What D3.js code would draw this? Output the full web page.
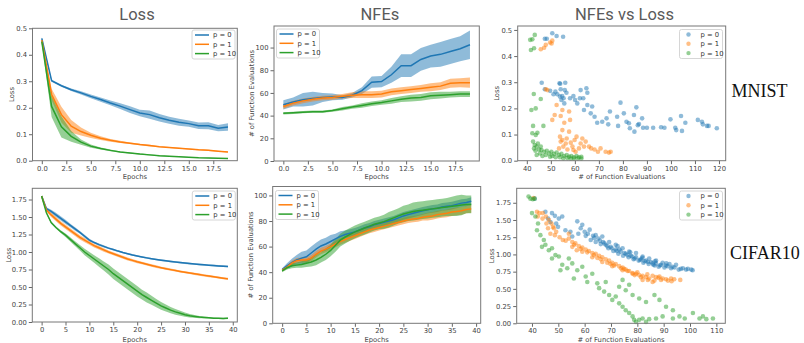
<!DOCTYPE html>
<html>
<head>
<meta charset="utf-8">
<script src="https://cdn.jsdelivr.net/npm/d3@7"></script>
<style>
  body { margin: 0; background: #fff; }
  svg { display: block; }
  .tick text { font-family: "DejaVu Sans", sans-serif; font-size: 6.8px; fill: #444; }
  .tick line { stroke: #666; }
</style>
</head>
<body>
<svg id="chart"></svg>
<script>
// ---- data ----
var seriesNames = ["p = 0", "p = 1", "p = 10"];
var colors = ["#1f77b4", "#ff7f0e", "#2ca02c"];

// MNIST loss per epoch (mean, spread)
var mnistLossP0 = [0.462,0.302,0.283,0.268,0.256,0.243,0.231,0.218,0.206,0.193,0.180,0.174,0.162,0.153,0.145,0.140,0.132,0.132,0.123,0.127];
var mnistLossP0Sd = [0.004,0.004,0.004,0.005,0.006,0.007,0.008,0.009,0.011,0.013,0.012,0.016,0.014,0.013,0.013,0.012,0.012,0.013,0.012,0.014];
var mnistLossP1 = [0.455,0.250,0.174,0.130,0.110,0.096,0.085,0.077,0.071,0.066,0.061,0.057,0.053,0.050,0.047,0.044,0.041,0.039,0.036,0.033];
var mnistLossP1Sd = [0.004,0.022,0.030,0.024,0.015,0.010,0.007,0.005,0.004,0.003,0.003,0.003,0.002,0.002,0.002,0.002,0.002,0.002,0.002,0.002];
var mnistLossP10 = [0.450,0.205,0.128,0.092,0.070,0.055,0.046,0.039,0.033,0.029,0.025,0.022,0.019,0.017,0.015,0.013,0.011,0.010,0.009,0.008];
var mnistLossP10Sd = [0.005,0.040,0.040,0.020,0.010,0.006,0.004,0.003,0.002,0.002,0.002,0.002,0.002,0.001,0.001,0.001,0.001,0.001,0.001,0.001];

// MNIST NFEs per epoch
var mnistNfeP0 = [49.5,52,54,55,56,56.5,56,58,62,69.5,70,76,84,84,89.5,92.5,94,96.5,99,102.5];
var mnistNfeP0Sd = [4,4,6,6,4,3,2,2,3,5,5,7,10,10,10,10,11,11,11,12.5];
var mnistNfeP1 = [48,51,53,54.5,55.5,56,57,58,58.5,58.5,59,61,62,63,64,65,66,68.5,69,69];
var mnistNfeP1Sd = [2,2,2,2,2,2,2,2.5,3,3,3,3,3,3,3,3.5,3.5,4,4,4.5];
var mnistNfeP10 = [42,42.5,43,43.5,43.5,44.5,46,47.5,49,50.5,51.5,53,54.5,55.5,56,57.5,58,58.5,59,59];
var mnistNfeP10Sd = [1,1,1,1,1,1,1.5,1.5,2,2,2,2.5,2.5,3,3,3,3,2.5,2.5,2.5];

// CIFAR10 loss per epoch
var cifarLossP0 = [1.80,1.62,1.58,1.53,1.48,1.43,1.38,1.33,1.28,1.225,1.17,1.135,1.105,1.08,1.055,1.035,1.013,0.993,0.975,0.958,0.943,0.929,0.916,0.904,0.893,0.883,0.874,0.865,0.857,0.849,0.842,0.835,0.829,0.823,0.817,0.811,0.806,0.801,0.797,0.793];
var cifarLossP0Sd = [0.005,0.02,0.025,0.03,0.03,0.03,0.025,0.025,0.02,0.02,0.02,0.015,0.015,0.015,0.013,0.013,0.012,0.012,0.012,0.012,0.012,0.012,0.012,0.012,0.012,0.012,0.012,0.012,0.012,0.012,0.012,0.012,0.012,0.012,0.012,0.012,0.012,0.012,0.012,0.012];
var cifarLossP1 = [1.80,1.60,1.53,1.47,1.41,1.36,1.31,1.26,1.21,1.17,1.13,1.09,1.06,1.03,1.00,0.975,0.95,0.925,0.90,0.88,0.86,0.842,0.824,0.807,0.791,0.776,0.762,0.748,0.735,0.722,0.71,0.699,0.688,0.677,0.666,0.656,0.646,0.636,0.626,0.616];
var cifarLossP1Sd = [0.005,0.02,0.03,0.03,0.03,0.03,0.03,0.03,0.03,0.03,0.025,0.025,0.025,0.025,0.02,0.02,0.02,0.02,0.02,0.02,0.02,0.018,0.018,0.018,0.018,0.015,0.015,0.015,0.015,0.015,0.015,0.015,0.015,0.015,0.015,0.015,0.015,0.015,0.015,0.015];
var cifarLossP10 = [1.80,1.56,1.42,1.35,1.29,1.24,1.18,1.12,1.06,1.00,0.95,0.90,0.85,0.80,0.75,0.69,0.64,0.59,0.54,0.49,0.44,0.39,0.35,0.31,0.27,0.23,0.20,0.17,0.145,0.125,0.105,0.09,0.08,0.07,0.065,0.06,0.055,0.052,0.05,0.055];
var cifarLossP10Sd = [0.005,0.01,0.015,0.015,0.02,0.025,0.03,0.035,0.04,0.045,0.05,0.055,0.06,0.065,0.07,0.075,0.075,0.075,0.075,0.075,0.075,0.07,0.07,0.065,0.06,0.055,0.05,0.045,0.04,0.035,0.03,0.025,0.02,0.015,0.012,0.01,0.01,0.01,0.01,0.01];

// CIFAR10 NFEs per epoch
var cifarNfeP0 = [42,45,47.5,49.5,51,52,55,58,60.5,62,64,66,68,69.5,70.5,71.5,73,74.5,75.5,77,78,79,80,81,82.5,84,85,86,87,88,88.8,89.5,90,91,91.5,92,93,94,94.5,95.5];
var cifarNfeP0Sd = [1,2,3,4,5,5,5,5,5,5,5,4,4,3,3,3,3,3,3,3,3,3,3,3,3,3,3,3,3,3,3,3,3,3,3,3,3,3,3,3];
var cifarNfeP1 = [41.5,44,47,49,49.5,49.5,51,54,56.5,58,60,62,64,65.5,67,68.5,70,71.5,73,74,75,76,77,78,79,80,81,81.5,82,83,83.5,84,85,85.5,86,87,87.5,88,89,89.5];
var cifarNfeP1Sd = [1,1.5,2,2,2,2,2.5,2.5,2.5,2.5,2.5,2.5,2.5,2.5,2.5,2.5,2.5,2.5,2.5,2.5,2.5,2.5,2.5,2.5,2.5,2.5,2.5,2.5,2.5,2.5,3,3,3,3,3,3,3,3,3,3];
var cifarNfeP10 = [41,43.5,45,45.5,46,47,48,49.5,51.5,54,57,61,65,67.5,69.5,71.5,73,74.5,76,77.5,78.5,79.5,81,82.5,84,85.5,86.5,87.5,88,88.5,89,89.5,90,90.5,91,91.5,92,92.5,93,93];
var cifarNfeP10Sd = [1,1.5,2,2,2.5,3,3.5,4,4,4.5,4.5,5,5,5,5,5,5,5,5,5,5,5.5,6,6,6,6.5,6.5,7,7,7,7,7,7,7,7,7.5,8,8,7,7];

// scatter: [NFEs, loss]
var mnistScatterP0 = [[50.6,0.487],[52.4,0.477],[47.5,0.466],[48.3,0.466],[55.1,0.474],[46.2,0.298],[47.5,0.273],[49.7,0.267],[51.1,0.254],[51.9,0.264],[53.6,0.296],[53.9,0.294],[56,0.298],[55.8,0.27],[56.5,0.26],[53.8,0.245],[54.7,0.247],[55.3,0.239],[55.6,0.219],[54.4,0.232],[58,0.239],[59.4,0.247],[60.1,0.232],[61,0.219],[62.4,0.27],[62.1,0.239],[63.5,0.239],[64.8,0.277],[65.2,0.26],[63.8,0.194],[65.2,0.213],[66.6,0.181],[67.2,0.207],[68.2,0.168],[69.3,0.145],[71.4,0.149],[73.2,0.162],[73.9,0.139],[74.6,0.188],[77.6,0.168],[78,0.133],[79,0.222],[80.4,0.181],[81.5,0.149],[82.5,0.143],[82.9,0.124],[84.6,0.175],[84.8,0.111],[85.6,0.204],[86.2,0.136],[86.7,0.14],[88,0.162],[88.4,0.126],[90,0.126],[92.6,0.126],[95.9,0.128],[97.3,0.126],[99.8,0.158],[101.8,0.126],[102.2,0.117],[104.2,0.171],[104.6,0.114],[106,0.145],[111.2,0.156],[112.9,0.149],[113.3,0.139],[115,0.133],[115.7,0.133],[119.1,0.124],[52.7,0.254],[54.1,0.273]];
var mnistScatterP1 = [[45.8,0.426],[47.2,0.432],[47.9,0.443],[49.7,0.452],[50.6,0.459],[50.3,0.448],[47.9,0.273],[48.6,0.27],[51.6,0.175],[52.4,0.213],[50.6,0.156],[54.1,0.171],[54.8,0.194],[57.6,0.188],[58,0.156],[55.6,0.145],[54.8,0.117],[53.8,0.092],[54.1,0.073],[55.2,0.054],[56.2,0.066],[56.6,0.085],[57.6,0.111],[58.3,0.069],[59,0.054],[59.9,0.079],[60.7,0.092],[61.7,0.047],[62.4,0.066],[63.1,0.085],[63.8,0.054],[64.5,0.073],[65.9,0.054],[66.8,0.047],[68.2,0.043],[69.6,0.034],[70.7,0.047],[72.8,0.034],[74.2,0.031],[74.9,0.034],[53.4,0.047],[54.8,0.079],[56.9,0.043],[59.4,0.041],[60.3,0.034]];
var mnistScatterP10 = [[43.3,0.481],[41.4,0.462],[42.3,0.464],[41.7,0.423],[43,0.43],[42.9,0.255],[45.8,0.236],[43.7,0.2],[41.9,0.194],[42.6,0.133],[46.9,0.133],[42.3,0.105],[43.7,0.098],[44.4,0.107],[42.6,0.073],[43.3,0.06],[43,0.047],[44.1,0.054],[45.1,0.043],[46.1,0.041],[47.2,0.034],[48.3,0.038],[49.3,0.028],[50.2,0.034],[51.3,0.026],[52.4,0.031],[53.4,0.022],[54.4,0.026],[55.5,0.018],[56.6,0.022],[57.6,0.015],[58.5,0.018],[59.6,0.013],[60.7,0.018],[61.7,0.013],[62.7,0.015],[44.1,0.022],[45.5,0.028],[46.5,0.018],[47.9,0.022],[49.7,0.015],[50.6,0.018],[52,0.013],[53.8,0.013],[55.2,0.009],[56.9,0.01],[58.3,0.008],[59.6,0.008],[61.2,0.009],[62.7,0.008],[44.6,0.066],[45.8,0.054],[43.6,0.038]];

var cifarScatterP0 = [[41,1.81],[45.1,1.62],[47.6,1.6],[46.1,1.52],[47,1.47],[49.2,1.45],[49.9,1.4],[51.5,1.55],[50.2,1.52],[54.6,1.33],[57.2,1.48],[57.6,1.3],[59.1,1.43],[60.4,1.27],[61.9,1.36],[62.3,1.21],[63.2,1.27],[64.2,1.18],[65.2,1.23],[66.1,1.15],[67,1.18],[68,1.14],[69,1.09],[69.9,1.11],[70.9,1.05],[71.8,1.07],[72.8,1.01],[73.7,1.04],[74.6,0.98],[75.6,1.01],[76.7,0.96],[77.5,0.98],[78.6,0.93],[79.5,0.96],[80.5,0.91],[81.4,0.93],[82.3,0.88],[83.3,0.91],[84.3,0.86],[85.2,0.89],[86.1,0.85],[87.1,0.87],[88.1,0.82],[89,0.85],[90.3,0.81],[91.5,0.83],[92.8,0.8],[94.1,0.81],[95.7,0.78],[97.3,0.8],[98.5,0.78],[100.5,0.78],[64.2,1.28],[66.7,1.26],[69.3,1.18],[71.8,1.14],[74.4,1.09],[76.9,1.04],[79.5,1.02],[82,0.97],[84.5,0.94],[87.1,0.91],[89.6,0.88],[92.2,0.86],[94.7,0.85],[55.3,1.26],[52.7,1.35],[48.7,1.56],
  [58.5,1.38],[60,1.33],[61.2,1.3],[63.6,1.24],[65.8,1.2],[67.5,1.16],[68.6,1.12],[70.3,1.09],[72.2,1.05],[73.2,1.07],[75.1,1.02],[76.2,0.99],[78,0.97],[79,0.94],[81,0.92],[82.8,0.9],[84,0.89],[85.8,0.87],[86.6,0.84],[88.6,0.84],[90.8,0.84],[93.3,0.82],[96.5,0.79],[99.2,0.79],[101,0.77],[72.5,1.12],[77.3,1.03],[81.9,0.95],[86.7,0.9],[91,0.87]];
var cifarScatterP1 = [[40.6,1.82],[41.9,1.62],[42.8,1.6],[44.1,1.6],[45.3,1.55],[46.4,1.5],[47.4,1.45],[48.3,1.38],[49.2,1.33],[46.1,1.38],[47,1.3],[48.7,1.28],[51.7,1.21],[54,1.23],[55.3,1.18],[56.5,1.16],[57.8,1.12],[59.1,1.1],[60.4,1.07],[61.6,1.05],[62.9,1.02],[64.2,1.01],[65.5,0.98],[66.7,0.96],[68,0.93],[69.3,0.91],[70.5,0.88],[71.8,0.86],[73.1,0.83],[74.4,0.81],[75.6,0.78],[76.9,0.76],[78.2,0.73],[79.5,0.72],[80.7,0.7],[82,0.69],[83.3,0.67],[84.5,0.65],[85.8,0.69],[87.1,0.67],[88.4,0.68],[89.6,0.65],[90.9,0.64],[92.8,0.65],[96.3,0.63],[55.3,1.11],[59.1,1.04],[62.9,0.96],[66.7,0.89],[70.5,0.83],[74.4,0.77],[78.2,0.72],[82,0.63],[85.8,0.6],[54,1.3],
  [50.5,1.25],[52.8,1.2],[56,1.14],[58.5,1.08],[61,1.03],[63.5,0.99],[66.1,0.93],[68.6,0.88],[71.2,0.84],[73.8,0.8],[76.3,0.76],[79,0.7],[81.4,0.67],[84,0.63],[86.5,0.62],[89,0.63],[91.6,0.62],[94,0.64],[57,1.06],[64.8,0.95],[69.8,0.86],[75,0.79],[80,0.74],[83.8,0.71],[88,0.66],[93,0.61],[45.5,1.45],[48,1.4],[44,1.52],[42.2,1.55]];
var cifarScatterP10 = [[38.7,1.84],[39.4,1.81],[40.3,1.8],[41,1.81],[40,1.6],[41.3,1.55],[42.3,1.45],[41.9,1.35],[43.2,1.28],[44.5,1.21],[45.1,1.14],[43.8,1.11],[46.4,1.06],[47.6,1.09],[48.9,0.99],[50.2,0.97],[47.6,0.94],[51.5,0.85],[53.4,0.8],[50.8,0.77],[55.3,0.87],[57.2,0.77],[55.9,0.65],[60.4,0.68],[61,0.6],[64.8,0.58],[65.5,0.51],[67.4,0.46],[69.3,0.41],[70.5,0.34],[71.8,0.39],[73.1,0.29],[74.4,0.24],[75.6,0.19],[76.9,0.15],[78.2,0.1],[78.8,0.05],[79.5,0.02],[80.7,0.05],[82,0.07],[83.3,0.02],[84.5,0.06],[73.1,0.53],[75.6,0.48],[78.2,0.41],[80.7,0.36],[83.3,0.31],[86.5,0.41],[88.4,0.34],[90.9,0.24],[93.5,0.19],[96,0.1],[98,0.07],[101.1,0.15],[103.6,0.07],[104.9,0.1],[106.2,0.06],[108.7,0.07],[87.1,0.07],[89.6,0.1],[93.5,0.07],[74.4,0.63],[76.9,0.56],[68,0.6],[62.9,0.72],[59.1,0.82],[54,0.94]];

// tick values
var epochTicksMnist = [0, 2.5, 5, 7.5, 10, 12.5, 15, 17.5];
var epochTicksCifar = [0, 5, 10, 15, 20, 25, 30, 35, 40];
var lossTicksMnist = [0, 0.1, 0.2, 0.3, 0.4, 0.5];
var lossTicksCifar = [0, 0.25, 0.5, 0.75, 1.0, 1.25, 1.5, 1.75];
var nfeTicks = [0, 20, 40, 60, 80, 100];
var nfeScatterTicksMnist = [40, 50, 60, 70, 80, 90, 100, 110, 120];
var nfeScatterTicksCifar = [40, 50, 60, 70, 80, 90, 100, 110];

// ---- drawing ----
var W = 804, H = 343;
var svg = d3.select("#chart").attr("width", W).attr("height", H);
svg.append("rect").attr("width", W).attr("height", H).attr("fill", "#fff");

function panel(o) {
  var x = d3.scaleLinear().domain(o.xd).range([o.l, o.r]);
  var y = d3.scaleLinear().domain(o.yd).range([o.b, o.t]);
  var g = svg.append("g");

  var xa = g.append("g").attr("transform", "translate(0," + o.b + ")")
    .call(d3.axisBottom(x).tickValues(o.xt).tickFormat(d3.format(o.xf)).tickSizeOuter(0).tickSize(3.5).tickPadding(1.5));
  var ya = g.append("g").attr("transform", "translate(" + o.l + ",0)")
    .call(d3.axisLeft(y).tickValues(o.yt).tickFormat(d3.format(o.yf)).tickSizeOuter(0).tickSize(3.5).tickPadding(2));
  xa.select(".domain").remove();
  ya.select(".domain").remove();

  var plot = g.append("g");

  if (o.lines) {
    o.lines.forEach(function (s, i) {
      var pts = s.mean.map(function (m, k) { return { e: k, m: m, sd: s.sd[k] }; });
      plot.append("path").datum(pts)
        .attr("fill", colors[i]).attr("fill-opacity", 0.5)
        .attr("d", d3.area().x(function (d) { return x(d.e); })
          .y0(function (d) { return y(d.m - d.sd); })
          .y1(function (d) { return y(d.m + d.sd); }));
    });
    o.lines.forEach(function (s, i) {
      var pts = s.mean.map(function (m, k) { return { e: k, m: m }; });
      plot.append("path").datum(pts)
        .attr("fill", "none").attr("stroke", colors[i]).attr("stroke-width", 1.5)
        .attr("d", d3.line().x(function (d) { return x(d.e); }).y(function (d) { return y(d.m); }));
    });
  }
  if (o.points) {
    o.points.forEach(function (s, i) {
      plot.selectAll(null).data(s).enter().append("circle")
        .attr("cx", function (d) { return x(d[0]); })
        .attr("cy", function (d) { return y(d[1]); })
        .attr("r", 2.3)
        .attr("fill", colors[i]).attr("fill-opacity", 0.5);
    });
  }

  g.append("rect").attr("x", o.l).attr("y", o.t).attr("width", o.r - o.l).attr("height", o.b - o.t)
    .attr("fill", "none").attr("stroke", "#777").attr("stroke-width", 1);

  g.append("text").attr("x", (o.l + o.r) / 2).attr("y", o.xly)
    .attr("text-anchor", "middle").attr("font-family", "DejaVu Sans, sans-serif")
    .attr("font-size", 6.8).attr("fill", "#444").text(o.xl);
  g.append("text").attr("transform", "translate(" + o.ylx + "," + ((o.t + o.b) / 2) + ") rotate(-90)")
    .attr("text-anchor", "middle").attr("font-family", "DejaVu Sans, sans-serif")
    .attr("font-size", 6.8).attr("fill", "#444").text(o.yl);

  // legend
  var lg = g.append("g").attr("transform", "translate(" + o.lx + "," + o.ly + ")");
  lg.append("rect").attr("width", 43).attr("height", 29).attr("rx", 2)
    .attr("fill", "#fff").attr("fill-opacity", 0.8).attr("stroke", "#ccc").attr("stroke-width", 0.8);
  seriesNames.forEach(function (n, i) {
    var yy = 5 + i * 9.3;
    if (o.points) {
      lg.append("circle").attr("cx", 9).attr("cy", yy).attr("r", 2.2)
        .attr("fill", colors[i]).attr("fill-opacity", 0.5);
    } else {
      lg.append("line").attr("x1", 3).attr("x2", 17).attr("y1", yy).attr("y2", yy)
        .attr("stroke", colors[i]).attr("stroke-width", 1.5);
    }
    lg.append("text").attr("x", 21).attr("y", yy + 2.4)
      .attr("font-family", "DejaVu Sans, sans-serif").attr("font-size", 6.8).attr("fill", "#333").text(n);
  });
}

var lossLines = function (a, b, c, d, e, f) { return [{ mean: a, sd: b }, { mean: c, sd: d }, { mean: e, sd: f }]; };

panel({ l: 32.5, r: 237.3, t: 28.3, b: 160.7, xd: [-0.95, 19.95], yd: [0, 0.5],
  xt: epochTicksMnist, xf: ".1f", yt: lossTicksMnist, yf: ".1f",
  xl: "Epochs", xly: 179, yl: "Loss", ylx: 14, lx: 192, ly: 30,
  lines: lossLines(mnistLossP0, mnistLossP0Sd, mnistLossP1, mnistLossP1Sd, mnistLossP10, mnistLossP10Sd) });

panel({ l: 274, r: 479.3, t: 26, b: 161, xd: [-0.95, 19.95], yd: [0, 119],
  xt: epochTicksMnist, xf: ".1f", yt: nfeTicks, yf: "d",
  xl: "Epochs", xly: 179, yl: "# of Function Evaluations", ylx: 254, lx: 276.5, ly: 29,
  lines: lossLines(mnistNfeP0, mnistNfeP0Sd, mnistNfeP1, mnistNfeP1Sd, mnistNfeP10, mnistNfeP10Sd) });

panel({ l: 517.7, r: 725.7, t: 26, b: 160.7, xd: [36.2, 122.8], yd: [0, 0.515],
  xt: nfeScatterTicksMnist, xf: "d", yt: lossTicksMnist, yf: ".1f",
  xl: "# of Function Evaluations", xly: 179, yl: "Loss", ylx: 499, lx: 679.5, ly: 29.5,
  points: [mnistScatterP0, mnistScatterP1, mnistScatterP10] });

panel({ l: 32.3, r: 237.3, t: 188.3, b: 322, xd: [-1.95, 40.95], yd: [0, 1.91],
  xt: epochTicksCifar, xf: "d", yt: lossTicksCifar, yf: ".2f",
  xl: "Epochs", xly: 341.5, yl: "Loss", ylx: 10.5, lx: 192.3, ly: 191,
  lines: lossLines(cifarLossP0, cifarLossP0Sd, cifarLossP1, cifarLossP1Sd, cifarLossP10, cifarLossP10Sd) });

panel({ l: 272.7, r: 480.7, t: 186.5, b: 323.3, xd: [-1.95, 40.95], yd: [0, 107],
  xt: epochTicksCifar, xf: "d", yt: nfeTicks, yf: "d",
  xl: "Epochs", xly: 342, yl: "# of Function Evaluations", ylx: 253, lx: 275.5, ly: 190.5,
  lines: lossLines(cifarNfeP0, cifarNfeP0Sd, cifarNfeP1, cifarNfeP1Sd, cifarNfeP10, cifarNfeP10Sd) });

panel({ l: 516.7, r: 725.3, t: 188.3, b: 323.3, xd: [34.2, 113.4], yd: [0, 1.96],
  xt: nfeScatterTicksCifar, xf: "d", yt: lossTicksCifar, yf: ".2f",
  xl: "# of Function Evaluations", xly: 342, yl: "Loss", ylx: 494, lx: 679.5, ly: 191,
  points: [cifarScatterP0, cifarScatterP1, cifarScatterP10] });

// column titles
var titles = [["Loss", 137], ["NFEs", 380], ["NFEs vs Loss", 624.5]];
titles.forEach(function (t) {
  svg.append("text").attr("x", t[1]).attr("y", 20).attr("text-anchor", "middle")
    .attr("font-family", "Roboto, sans-serif").attr("font-size", 16.5).attr("fill", "#5a5a5a").text(t[0]);
});

// row labels
svg.append("text").attr("x", 731.5).attr("y", 96.7).attr("font-family", "Liberation Serif, serif")
  .attr("font-size", 18).attr("fill", "#111").text("MNIST");
svg.append("text").attr("x", 730).attr("y", 259).attr("font-family", "Liberation Serif, serif")
  .attr("font-size", 18).attr("fill", "#111").text("CIFAR10");
</script>
</body>
</html>
